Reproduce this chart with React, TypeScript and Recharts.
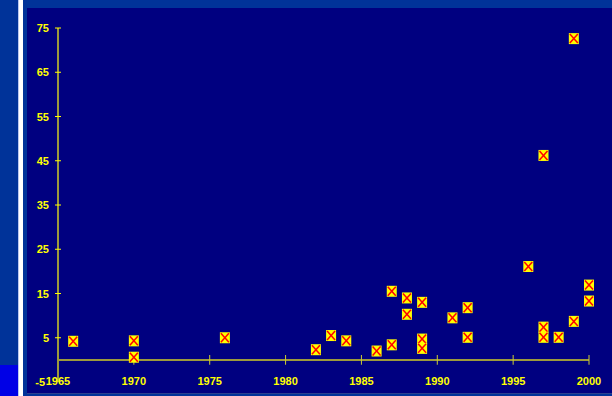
import React from 'react';
import { ScatterChart, Scatter, XAxis, YAxis, ReferenceLine } from 'recharts';

// founding year and value for each marker
const YEARS = [1966, 1970, 1970, 1976, 1982, 1983, 1984, 1986, 1987, 1987, 1988, 1988, 1989, 1989, 1989, 1991, 1992, 1992, 1996, 1997, 1997, 1997, 1998, 1999, 1999, 2000, 2000];
const VALUES = [4.2, 4.3, 0.6, 5.0, 2.3, 5.5, 4.3, 2.0, 3.4, 15.5, 14.0, 10.3, 13.0, 4.7, 2.6, 9.5, 11.8, 5.1, 21.1, 46.2, 7.4, 5.1, 5.1, 72.6, 8.7, 16.9, 13.3];

const X_TICKS = [1965, 1970, 1975, 1980, 1985, 1990, 1995, 2000];
const Y_TICKS = [-5, 5, 15, 25, 35, 45, 55, 65, 75];

const COLORS = {
  page: '#003399',
  panel: '#000080',
  axis: '#9c9a3c',
  tick: '#ffff00',
  xTick: '#cccc33',
  text: '#ffff00',
  marker: '#ffff00',
  cross: '#ff0000',
};

const FONT = "'Liberation Sans Narrow', 'Arial Narrow', 'Liberation Sans', Arial, sans-serif";

const points = YEARS.map((year, i) => ({ year, value: VALUES[i] }));

const Marker = (props: any) => {
  const { cx, cy } = props;
  if (cx == null || cy == null) return null;
  return (
    <g>
      <rect x={cx - 5} y={cy - 5.5} width={10} height={11} fill={COLORS.marker} />
      <line x1={cx - 4} y1={cy - 4.5} x2={cx + 4} y2={cy + 4.5} stroke={COLORS.cross} strokeWidth={1.5} />
      <line x1={cx + 4} y1={cy - 4.5} x2={cx - 4} y2={cy + 4.5} stroke={COLORS.cross} strokeWidth={1.5} />
    </g>
  );
};

const XTick = ({ x, y, payload }: any) => (
  <text x={x} y={y + 3} textAnchor="middle" fill={COLORS.text} fontSize={11} fontWeight="bold" fontFamily={FONT}>
    {payload.value}
  </text>
);

// the bottom label sits in the corner next to the first year, so it is pulled a bit further left
const YTick = ({ x, y, payload }: any) => {
  const bottom = payload.value === -5;
  return (
    <g>
      {!bottom && <line x1={x - 3} y1={y} x2={x + 3} y2={y} stroke={COLORS.tick} strokeWidth={1} />}
      <text x={bottom ? x - 13 : x - 9} y={y + 4} textAnchor="end" fill={COLORS.text} fontSize={11} fontWeight="bold" fontFamily={FONT}>
        {payload.value}
      </text>
    </g>
  );
};

export default function App() {
  return (
    <div style={{ position: 'absolute', left: 0, top: 0, width: 612, height: 396, background: COLORS.page, overflow: 'hidden' }}>
      <div style={{ position: 'absolute', left: 18, top: 0, width: 4, height: 396, background: '#ffffff', borderLeft: '1px solid #b8c8f0' }} />
      <div style={{ position: 'absolute', left: 0, top: 365, width: 18, height: 31, background: '#0000e6' }} />
      <div style={{ position: 'absolute', left: 27, top: 8, width: 585, height: 385, background: COLORS.panel, borderBottom: '1px solid #2a3f90' }} />
      <div style={{ position: 'absolute', left: 0, top: 0 }}>
        <ScatterChart width={612} height={396} margin={{ top: 28, right: 23, bottom: 0, left: 0 }}>
          <XAxis
            type="number"
            dataKey="year"
            domain={[1965, 2000]}
            ticks={X_TICKS}
            height={14}
            axisLine={false}
            tickLine={false}
            tickSize={0}
            tickMargin={0}
            tick={<XTick />}
            interval={0}
          />
          <YAxis
            type="number"
            dataKey="value"
            domain={[-5, 75]}
            ticks={Y_TICKS}
            width={58}
            axisLine={{ stroke: COLORS.axis, strokeWidth: 2 }}
            tickLine={false}
            tickSize={0}
            tickMargin={0}
            tick={<YTick />}
            interval={0}
          />
          <ReferenceLine y={0} stroke={COLORS.axis} strokeWidth={2} />
          {X_TICKS.map((yr) => (
            <ReferenceLine
              key={yr}
              segment={[{ x: yr, y: -1.1 }, { x: yr, y: 1.1 }]}
              stroke={COLORS.xTick}
              strokeWidth={1}
            />
          ))}
          <Scatter data={points} shape={<Marker />} isAnimationActive={false} />
        </ScatterChart>
      </div>
    </div>
  );
}
